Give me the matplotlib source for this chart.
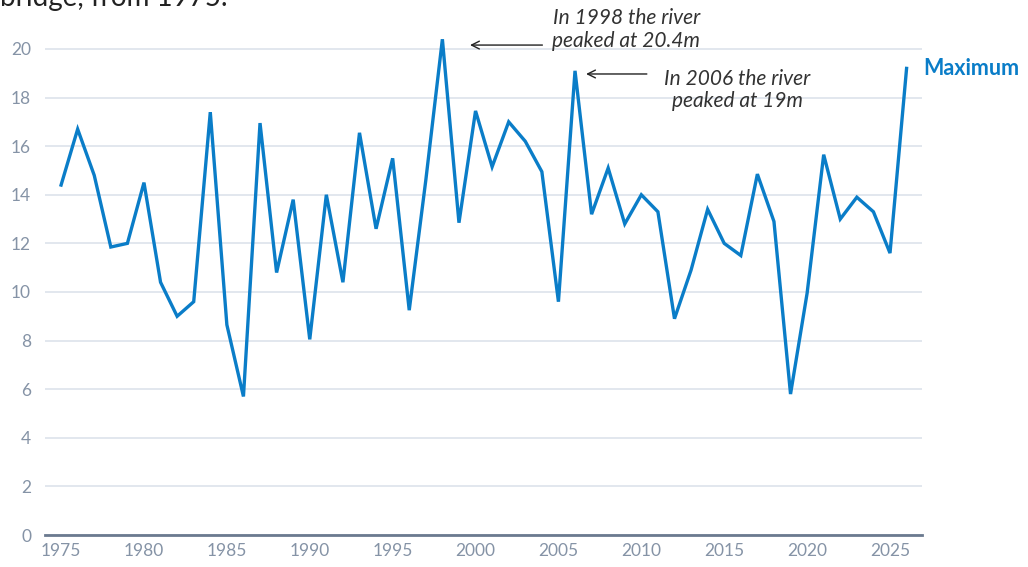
import matplotlib
matplotlib.use("Agg")
import matplotlib.pyplot as plt

# yearly maximum river height (m)
years = list(range(1975, 2027))
maximum = [14.4, 16.7, 14.8, 11.85, 12.0, 14.5, 10.4, 9.0, 9.6, 17.4,
           8.65, 5.7, 16.95, 10.8, 13.8, 8.05, 14.0, 10.4, 16.55, 12.6,
           15.5, 9.25, 14.6, 20.4, 12.85, 17.45, 15.15, 17.0, 16.2, 14.95,
           9.6, 19.1, 13.2, 15.1, 12.8, 14.0, 13.3, 8.9, 10.9, 13.4,
           12.0, 11.5, 14.85, 12.9, 5.8, 9.95, 15.65, 13.0, 13.9, 13.3,
           11.6, 19.2]
yticks = [0, 2, 4, 6, 8, 10, 12, 14, 16, 18, 20]
xticks = [1975, 1980, 1985, 1990, 1995, 2000, 2005, 2010, 2015, 2020, 2025]

BLUE = '#0a7dc8'
GRID = '#dde3eb'
TICK = '#8593a6'
FONT = 'Lato'

plt.rcParams['font.family'] = [FONT, 'DejaVu Sans']

fig = plt.figure(figsize=(10.28, 5.67), dpi=100)
ax = fig.add_axes([45 / 1028, 32 / 567, 877 / 1028, 522.5 / 567])

ax.plot(years, maximum, color=BLUE, lw=2.4, solid_joinstyle='miter', zorder=3)

ax.set_xlim(1974.03, 2026.93)
ax.set_ylim(0, 21.5)
ax.set_yticks(yticks)
ax.set_xticks(xticks)
ax.grid(axis='y', color=GRID, lw=1.2)
ax.set_axisbelow(True)
for s in ['top', 'right', 'left']:
    ax.spines[s].set_visible(False)
ax.spines['bottom'].set_color('#6b7a8f')
ax.spines['bottom'].set_linewidth(2)
ax.tick_params(length=0, labelsize=12.5, labelcolor=TICK)
ax.tick_params(axis='y', pad=10)
ax.tick_params(axis='x', pad=6)

# clipped subtitle line at the very top (cut off in the source too)
fig.text(0.0, 1.003, 'bridge, from 1975.', fontsize=20, color='#222222',
         ha='left', va='center')

# annotations
ax.annotate('', xy=(1999.5, 20.16), xytext=(2004.2, 20.16),
            arrowprops=dict(arrowstyle='->', color='#222222', lw=1,
                            mutation_scale=14))
ax.text(2009.1, 20.8, 'In 1998 the river\npeaked at 20.4m', fontsize=15,
        style='italic', color='#333333', ha='center', va='center',
        linespacing=1.15)
ax.annotate('', xy=(2006.5, 18.97), xytext=(2010.5, 18.97),
            arrowprops=dict(arrowstyle='->', color='#222222', lw=1,
                            mutation_scale=14))
ax.text(2015.8, 18.3, 'In 2006 the river\npeaked at 19m', fontsize=15,
        style='italic', color='#333333', ha='center', va='center',
        linespacing=1.15)

ax.text(2027.0, 19.2, 'Maximum', fontsize=15.5, fontweight='bold',
        color=BLUE, ha='left', va='center', clip_on=False)

fig.savefig('out.png', dpi=100)
